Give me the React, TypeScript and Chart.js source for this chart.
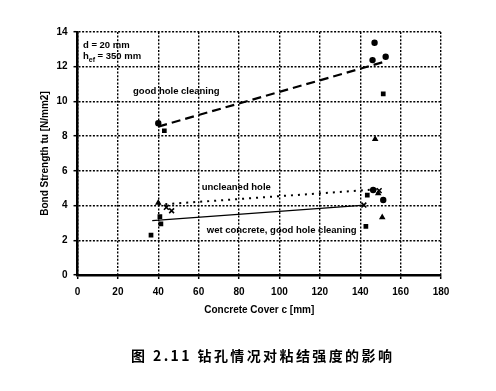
import React, { useEffect, useRef } from "react";
import { Chart, registerables } from "chart.js";

Chart.register(...registerables);

// Data (Concrete cover c [mm], bond strength [N/mm2])
const goodCleanX = [40, 43, 147.1, 146.1, 152.6, 151.4, 147.4];
const goodCleanY = [8.74, 8.31, 13.38, 12.38, 12.57, 10.43, 7.83];
const goodCleanStyle = ["circle", "rect", "circle", "circle", "circle", "rect", "triangle"];

const uncleanX = [40, 44, 46.6, 143.5, 146.4, 149.4, 148.9, 151.4];
const uncleanY = [4.16, 3.9, 3.7, 4.6, 4.9, 4.86, 4.7, 4.32];
const uncleanStyle = ["triangle", "crossRot", "crossRot", "rect", "circle", "crossRot", "triangle", "circle"];

const wetX = [40.8, 41.3, 36.4, 141.8, 150.9, 142.8];
const wetY = [3.36, 2.94, 2.3, 4.03, 3.32, 2.8];
const wetStyle = ["rect", "rect", "rect", "crossRot", "triangle", "rect"];

// trend lines
const goodTrendX = [40, 152.5];
const goodTrendY = [8.55, 12.3];
const uncleanTrendX = [40, 150];
const uncleanTrendY = [4.05, 4.95];
const wetTrendX = [37, 142.3];
const wetTrendY = [3.13, 4.03];

const xTicks = [0, 20, 40, 60, 80, 100, 120, 140, 160, 180];
const yTicks = [0, 2, 4, 6, 8, 10, 12, 14];

const labels = [
  { text: "good hole cleaning", x: 27.5, y: 10.56 },
  { text: "uncleaned hole", x: 61.5, y: 5.07 },
  { text: "wet concrete, good hole cleaning", x: 64, y: 2.55 },
  { text: "d = 20 mm", x: 2.7, y: 13.25 },
];

const xAxisTitle = "Concrete Cover c [mm]";
const yAxisTitle = "Bond Strength tu [N/mm2]";
const caption = "图 2.11 钻孔情况对粘结强度的影响";

const FONT = "'Liberation Sans', Arial, sans-serif";

const pts = (xs: number[], ys: number[]) => xs.map((x, i) => ({ x, y: ys[i] }));

const radiusFor = (styles: string[]) => (ctx: any) =>
  styles[ctx.dataIndex] === "crossRot" ? 3.4 : styles[ctx.dataIndex] === "circle" ? 2.4 : 2.2;

const textPlugin = {
  id: "textPlugin",
  afterDatasetsDraw(chart: any) {
    const { ctx, scales } = chart;
    const sx = scales.x;
    const sy = scales.y;
    ctx.save();
    ctx.fillStyle = "#000";
    ctx.font = `bold 9.5px ${FONT}`;
    ctx.textBaseline = "middle";
    ctx.textAlign = "left";
    labels.forEach((l) => {
      ctx.fillText(l.text, sx.getPixelForValue(l.x), sy.getPixelForValue(l.y));
    });
    // h_ef = 350 mm
    const hx = sx.getPixelForValue(2.7);
    const hy = sy.getPixelForValue(12.57);
    ctx.fillText("h", hx, hy);
    const hw = ctx.measureText("h").width;
    ctx.font = `bold 7px ${FONT}`;
    ctx.fillText("ef", hx + hw, hy + 3);
    const ew = ctx.measureText("ef").width;
    ctx.font = `bold 9.5px ${FONT}`;
    ctx.fillText(" = 350 mm", hx + hw + ew, hy);
    ctx.restore();
  },
};

export default function App() {
  const ref = useRef<HTMLCanvasElement | null>(null);

  useEffect(() => {
    if (!ref.current) return;
    const tickFont = { family: FONT, size: 10, weight: "bold" as const };
    const gridOpts = {
      color: "#000",
      lineWidth: 1.4,
      tickLength: 4,
      tickColor: "#000",
      tickWidth: 1.5,
    };
    const borderOpts = { display: true, color: "#000", width: 2.5, dash: [2, 1.6] };
    const chart = new Chart(ref.current, {
      type: "scatter",
      data: {
        datasets: [
          {
            label: "good hole cleaning trend",
            data: pts(goodTrendX, goodTrendY),
            showLine: true,
            borderColor: "#000",
            borderWidth: 2.2,
            borderDash: [9, 5],
            pointRadius: 0,
          },
          {
            label: "uncleaned hole trend",
            data: pts(uncleanTrendX, uncleanTrendY),
            showLine: true,
            borderColor: "#000",
            borderWidth: 2,
            borderDash: [2, 5],
            pointRadius: 0,
          },
          {
            label: "wet concrete trend",
            data: pts(wetTrendX, wetTrendY),
            showLine: true,
            borderColor: "#000",
            borderWidth: 1.2,
            pointRadius: 0,
          },
          {
            label: "good hole cleaning",
            data: pts(goodCleanX, goodCleanY),
            pointStyle: goodCleanStyle as any,
            pointRadius: radiusFor(goodCleanStyle),
            backgroundColor: "#000",
            borderColor: "#000",
            borderWidth: 1.6,
          },
          {
            label: "uncleaned hole",
            data: pts(uncleanX, uncleanY),
            pointStyle: uncleanStyle as any,
            pointRadius: radiusFor(uncleanStyle),
            backgroundColor: "#000",
            borderColor: "#000",
            borderWidth: 1.6,
          },
          {
            label: "wet concrete",
            data: pts(wetX, wetY),
            pointStyle: wetStyle as any,
            pointRadius: radiusFor(wetStyle),
            backgroundColor: "#000",
            borderColor: "#000",
            borderWidth: 1.6,
          },
        ],
      },
      options: {
        responsive: false,
        animation: false,
        events: [],
        layout: { padding: { left: 0, top: 32, right: 55, bottom: 71 } },
        plugins: { legend: { display: false }, tooltip: { enabled: false } },
        scales: {
          x: {
            type: "linear",
            min: 0,
            max: 180,
            afterBuildTicks: (s: any) => {
              s.ticks = xTicks.map((v) => ({ value: v }));
            },
            afterFit: (s: any) => {
              s.height = 45;
            },
            ticks: { font: tickFont, color: "#000", padding: 7 },
            grid: gridOpts,
            border: borderOpts,
            title: {
              display: true,
              text: xAxisTitle,
              color: "#000",
              font: tickFont,
              padding: { top: 0, bottom: 4 },
            },
          },
          y: {
            type: "linear",
            min: 0,
            max: 14,
            afterBuildTicks: (s: any) => {
              s.ticks = yTicks.map((v) => ({ value: v }));
            },
            afterFit: (s: any) => {
              s.width = 77.5;
            },
            ticks: { font: tickFont, color: "#000", padding: 6 },
            grid: gridOpts,
            border: borderOpts,
            title: {
              display: true,
              text: yAxisTitle,
              color: "#000",
              font: tickFont,
              padding: { top: 39, bottom: 0 },
            },
          },
        },
      },
      plugins: [textPlugin],
    });
    return () => chart.destroy();
  }, []);

  return (
    <div style={{ position: "absolute", left: 0, top: 0, width: 496, height: 391, background: "#fff" }}>
      <canvas ref={ref} width={496} height={391} style={{ display: "block" }} />
      <div
        style={{
          position: "absolute",
          left: 131,
          top: 345,
          fontFamily: "'Noto Sans CJK SC', sans-serif",
          fontWeight: "bold",
          fontSize: 14,
          letterSpacing: "2.4px",
          color: "#000",
          whiteSpace: "nowrap",
          lineHeight: "20px",
        }}
      >
        {caption}
      </div>
    </div>
  );
}
